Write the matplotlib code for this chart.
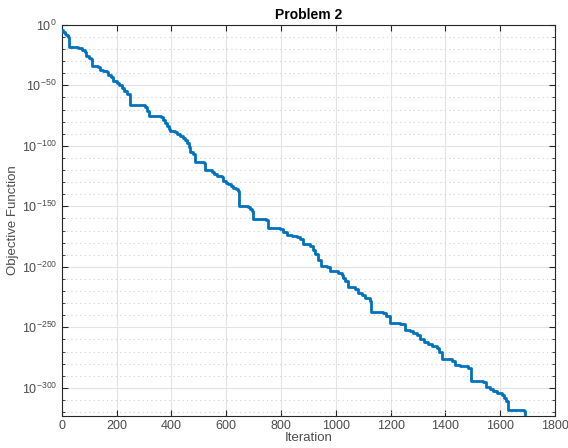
import matplotlib
matplotlib.use("Agg")
import matplotlib.pyplot as plt
from matplotlib.ticker import MultipleLocator, FuncFormatter

plt.rcParams['font.family'] = ['Liberation Sans', 'DejaVu Sans']
plt.rcParams['mathtext.default'] = 'regular'
plt.rcParams['axes.unicode_minus'] = False

# iteration where the objective changes, and log10 of the new objective value
iters = [0, 5, 10, 15, 22, 26, 45, 60, 72, 84, 88, 100, 108, 111, 133, 140, 150, 163,
         170, 180, 186, 200, 210, 218, 228, 236, 250, 303, 312, 318, 362, 368, 376,
         382, 390, 396, 412, 422, 432, 443, 450, 458, 465, 467, 479, 486, 518, 522,
         547, 556, 565, 583, 589, 600, 607, 618, 626, 636, 644, 648, 680, 688, 693,
         696, 745, 753, 796, 808, 820, 840, 857, 869, 881, 905, 915, 924, 936, 945,
         967, 979, 1009, 1021, 1027, 1033, 1045, 1070, 1082, 1095, 1106, 1124, 1130,
         1173, 1185, 1197, 1234, 1252, 1270, 1283, 1295, 1307, 1322, 1337, 1352, 1368,
         1378, 1386, 1423, 1435, 1455, 1483, 1492, 1538, 1550, 1562, 1574, 1590, 1605,
         1615, 1623, 1629, 1688, 1692]
log_obj = [-4, -6, -7.5, -8.5, -10, -18, -18.5, -19.5, -21, -22.5, -26, -27, -28, -34,
           -35, -37, -38, -39, -41, -43, -46, -48, -50, -52.5, -55, -57, -66.5, -67.5,
           -71, -75.5, -76.5, -79, -81, -83.5, -86, -87.5, -88.5, -90.5, -92, -93.5,
           -95, -98, -101, -105, -106.5, -113.5, -114.5, -120, -121.5, -123, -124.5,
           -126, -129, -130.5, -131.5, -133, -134.5, -136, -137.5, -149.5, -150.5,
           -152, -154, -160.5, -161.5, -168, -169, -171, -173.5, -174.5, -175.5, -177,
           -181.5, -183, -186, -189.5, -194.5, -199.5, -200.5, -203.5, -205, -206.5,
           -209, -212, -216.5, -218.5, -222, -223.5, -225.5, -228.5, -237, -238, -241,
           -246, -247.5, -252, -253, -254.5, -256.5, -259.5, -262, -264, -265.5, -267,
           -270, -276.5, -277.5, -281, -282, -284, -294.5, -295.5, -299, -301, -303,
           -304.5, -306, -308.5, -311, -318, -319, -330]

fig = plt.figure(figsize=(5.68, 4.48), dpi=100)
ax = fig.add_axes([0.109, 0.0714, 0.868, 0.873])

ax.plot(iters, log_obj, drawstyle='steps-post', color='#0072BD', linewidth=2, zorder=3)

ax.set_xlim(0, 1800)
ax.set_ylim(-323.3, 0)
ax.xaxis.set_major_locator(MultipleLocator(200))
ax.yaxis.set_major_locator(MultipleLocator(50))
ax.yaxis.set_minor_locator(MultipleLocator(10))
ax.yaxis.set_major_formatter(FuncFormatter(lambda v, p: r'$10^{%d}$' % int(round(v))))

ax.grid(True, which='major', color='#e3e3e3', linewidth=0.8)
ax.grid(True, which='minor', axis='y', color='#cfcfcf', linestyle=(0, (1, 3)), linewidth=0.8)
ax.set_axisbelow(True)

for s in ax.spines.values():
    s.set_color('#262626')
    s.set_linewidth(0.8)
ax.tick_params(which='both', direction='in', top=True, right=True,
               colors='#262626', labelsize=9, labelcolor='#4d4d4d')
ax.tick_params(which='major', length=4)
ax.tick_params(which='minor', length=2)
ax.tick_params(axis='x', pad=3)

ax.set_title('Problem 2', fontsize=10, fontweight='bold', color='black', pad=4)
ax.set_xlabel('Iteration', fontsize=9.5, color='#4d4d4d', labelpad=0)
ax.set_ylabel('Objective Function', fontsize=9.5, color='#4d4d4d', labelpad=2)

fig.savefig('out.png', dpi=100)
